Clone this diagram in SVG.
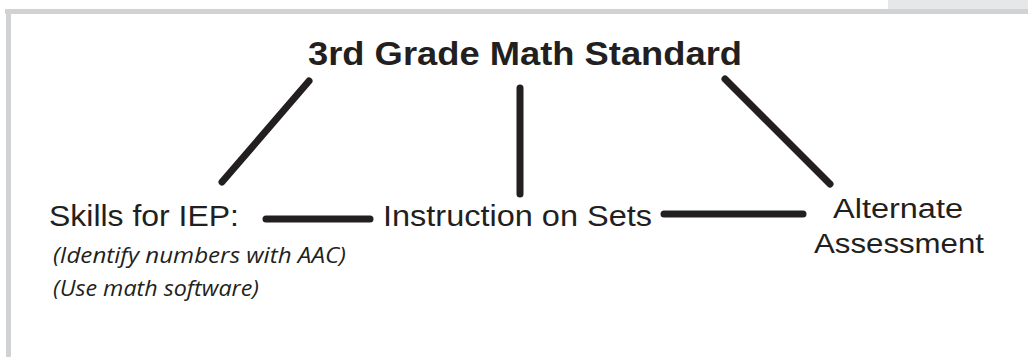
<svg xmlns="http://www.w3.org/2000/svg" width="1028" height="357" viewBox="0 0 1028 357">
<style>
.t{font-family:"Liberation Sans",Arial,sans-serif;fill:#231f20}
.i{font-family:"Open Sans","Noto Sans",sans-serif;font-style:italic;fill:#231f20}
.c{stroke:#231f20;stroke-width:7;stroke-linecap:round;fill:none}
</style>
<rect x="0" y="0" width="1028" height="357" fill="#ffffff"/>
<g id="frame">
<rect x="888" y="0" width="140" height="9" fill="#e6e7e8"/>
<rect x="5" y="9" width="1023" height="5" fill="#d1d2d4"/>
<rect x="6" y="9" width="5" height="348" fill="#d1d2d4"/>
</g>
<g id="connectors">
<line class="c" x1="309" y1="81" x2="222" y2="182"/>
<line class="c" x1="520" y1="88" x2="520" y2="194"/>
<line class="c" x1="725" y1="79" x2="830" y2="184"/>
<line class="c" x1="266" y1="219" x2="370" y2="219"/>
<line class="c" x1="664" y1="214" x2="803" y2="214"/>
</g>
<g id="standard">
<text class="t" x="308" y="65" font-size="33" font-weight="bold" textLength="434" lengthAdjust="spacingAndGlyphs">3rd Grade Math Standard</text>
</g>
<g id="skills">
<text class="t" x="49" y="226" font-size="30" textLength="190" lengthAdjust="spacingAndGlyphs">Skills for IEP:</text>
<text class="i" x="53" y="263" font-size="21" textLength="293" lengthAdjust="spacingAndGlyphs">(Identify numbers with AAC)</text>
<text class="i" x="53" y="296" font-size="21" textLength="206" lengthAdjust="spacingAndGlyphs">(Use math software)</text>
</g>
<g id="instruction">
<text class="t" x="383" y="226" font-size="30" textLength="269" lengthAdjust="spacingAndGlyphs">Instruction on Sets</text>
</g>
<g id="assessment">
<text class="t" x="833" y="218" font-size="27" textLength="130" lengthAdjust="spacingAndGlyphs">Alternate</text>
<text class="t" x="814" y="253" font-size="28" textLength="170" lengthAdjust="spacingAndGlyphs">Assessment</text>
</g>
</svg>
